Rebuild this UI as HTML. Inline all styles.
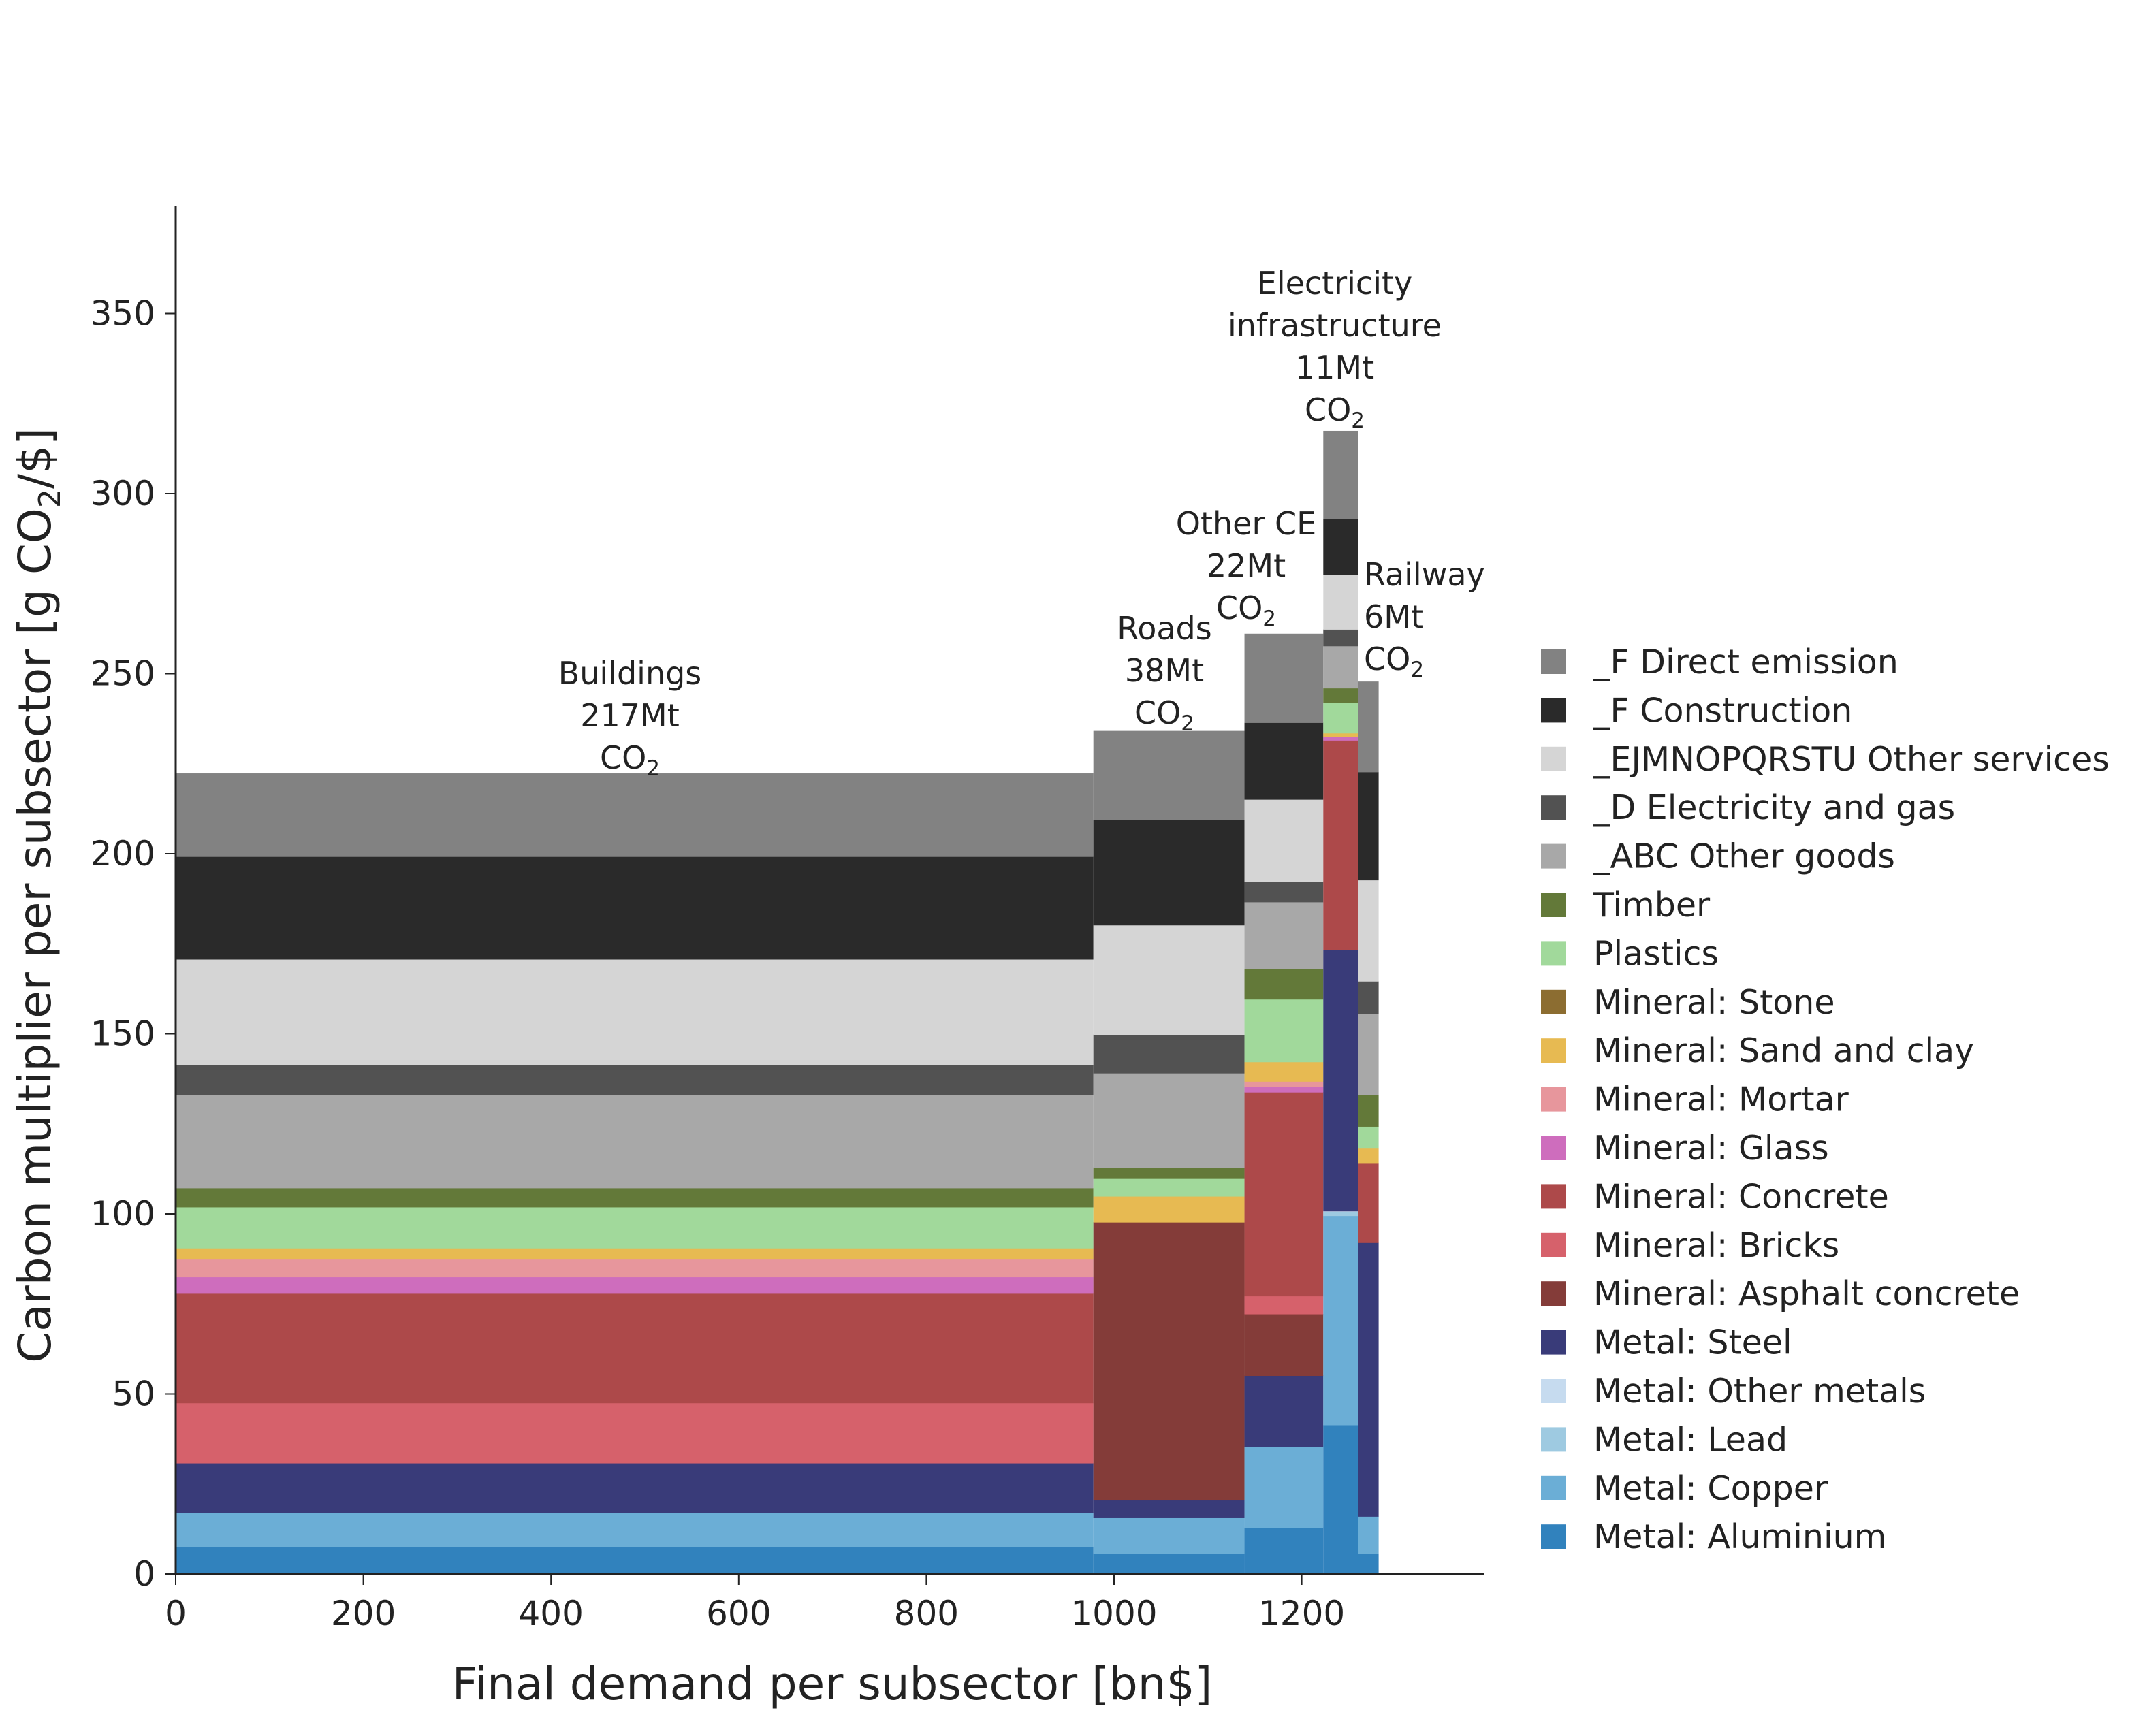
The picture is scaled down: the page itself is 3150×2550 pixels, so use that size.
<!DOCTYPE html>
<html><head><meta charset="utf-8"><style>
html,body{margin:0;padding:0;background:#fff;}
svg{display:block;font-family:"DejaVu Sans","Liberation Sans",sans-serif;}
</style></head><body>
<svg id="chart" width="3150" height="2550" viewBox="0 0 3150 2550" xmlns="http://www.w3.org/2000/svg"></svg>
<script>
const sectors = ["Buildings","Roads","Other CE","Electricity infrastructure","Railway"];
const demand = [978, 161, 84, 37, 22];
const labelLines = [["Buildings","217Mt","CO2"],["Roads","38Mt","CO2"],["Other CE","22Mt","CO2"],["Electricity","infrastructure","11Mt","CO2"],["Railway","6Mt","CO2"]];
const seriesNames = ["Metal: Aluminium","Metal: Copper","Metal: Lead","Metal: Other metals","Metal: Steel","Mineral: Asphalt concrete","Mineral: Bricks","Mineral: Concrete","Mineral: Glass","Mineral: Mortar","Mineral: Sand and clay","Mineral: Stone","Plastics","Timber","_ABC Other goods","_D Electricity and gas","_EJMNOPQRSTU Other services","_F Construction","_F Direct emission"];
const seriesColors = ["#3182bd","#6baed6","#9ecae1","#c6dbef","#393b79","#843c39","#d6616b","#ad494a","#ce6dbd","#e7969c","#e7ba52","#8c6d31","#a1d99b","#637939","#a8a8a8","#525252","#d5d5d5","#2a2a2a","#828282"];
const sAluminium = [7.6,5.7,12.9,41.4,5.7];
const sCopper = [9.5,9.9,22.4,58.1,10.3];
const sLead = [0,0,0,1.0,0];
const sOtherMetals = [0,0,0,0.3,0];
const sSteel = [13.7,4.9,19.8,72.5,76];
const sAsphalt = [0,77.2,17.1,0,0];
const sBricks = [16.7,0,5.0,0,0];
const sConcrete = [30.4,0,56.6,58.2,22];
const sGlass = [4.6,0,1.5,1.0,0];
const sMortar = [4.9,0,1.5,0,0];
const sSand = [3.1,7.2,5.4,1.0,4.2];
const sStone = [0,0,0,0,0];
const sPlastics = [11.4,4.9,17.4,8.5,6.1];
const sTimber = [5.3,3.1,8.4,4.0,8.7];
const sABC = [25.8,26.2,18.6,11.7,22.5];
const sD = [8.4,10.7,5.7,4.6,9.1];
const sEJM = [29.3,30.4,22.8,15.2,28.1];
const sFConstr = [28.5,29.2,21.3,15.5,30];
const sDirect = [23.1,24.7,24.7,24.4,25.1];
const seriesValues = [sAluminium,sCopper,sLead,sOtherMetals,sSteel,sAsphalt,sBricks,sConcrete,sGlass,sMortar,sSand,sStone,sPlastics,sTimber,sABC,sD,sEJM,sFConstr,sDirect];
const xTicks = [0,200,400,600,800,1000,1200];
const yTicks = [0,50,100,150,200,250,300,350];

const NS="http://www.w3.org/2000/svg";
const svg=document.getElementById('chart');
const X0=258, PXX=1.378, Y0=2312, PXY=5.29;
const xs=v=>X0+v*PXX, ys=v=>Y0-v*PXY;
function el(t,a,p){const e=document.createElementNS(NS,t);for(const k in a)e.setAttribute(k,a[k]);(p||svg).appendChild(e);return e;}

// label layout (pixel positions, not data)
const labelX=[925,1710,1830,1960,2003];
const labelAnchor=['middle','middle','middle','middle','start'];
const labelTopY=[1005,939,785,432,860];

const bars=el('g',{});


let cx=0;
for(let b=0;b<demand.length;b++){
  let base=0;
  for(let s=0;s<seriesValues.length;s++){
    const v=seriesValues[s][b];
    if(v>0){
      const r=el('rect',{x:xs(cx),y:ys(base+v),width:xs(cx+demand[b])-xs(cx),height:ys(base)-ys(base+v)+0.5,fill:seriesColors[s]},bars);
      
      
    }
    base+=v;
  }
  cx+=demand[b];
}
for(let b=0;b<labelLines.length;b++){
  const g=el('g',{});
  
  
  labelLines[b].forEach((ln,i)=>{
    const t=el('text',{x:labelX[b],y:labelTopY[b]+i*62,'text-anchor':labelAnchor[b],'font-size':46,fill:'#222'},g);
    if(ln==='CO2'){t.textContent='CO';const ts=el('tspan',{'font-size':31,dy:10},t);ts.textContent='2';}
    else t.textContent=ln;
  });
}

// axes
const ax=el('g',{});


el('line',{x1:X0,y1:Y0,x2:2180,y2:Y0,stroke:'#222','stroke-width':3},ax);
el('line',{x1:X0,y1:Y0,x2:X0,y2:303,stroke:'#222','stroke-width':3},ax);
xTicks.forEach(v=>{
  el('line',{x1:xs(v),y1:Y0,x2:xs(v),y2:Y0+16,stroke:'#222','stroke-width':2},ax);
  const t=el('text',{x:xs(v),y:Y0+75,'text-anchor':'middle','font-size':50,fill:'#222'},ax);t.textContent=v;
});
yTicks.forEach(v=>{
  el('line',{x1:X0,y1:ys(v),x2:X0-16,y2:ys(v),stroke:'#222','stroke-width':2},ax);
  const t=el('text',{x:X0-30,y:ys(v)+17,'text-anchor':'end','font-size':50,fill:'#222'},ax);t.textContent=v;
});
const xt=el('text',{x:1222,y:2496,'text-anchor':'middle','font-size':66,fill:'#222'});


xt.textContent='Final demand per subsector [bn$]';
const yt=el('text',{x:0,y:0,'text-anchor':'middle','font-size':66,fill:'#222',transform:'translate(74,1315) rotate(-90)'});


yt.textContent='Carbon multiplier per subsector [g CO';
const ys2=el('tspan',{'font-size':44,dy:14},yt);ys2.textContent='2';
const ys3=el('tspan',{dy:-14},yt);ys3.textContent='/$]';

// legend
const lg=el('g',{});


for(let i=0;i<seriesNames.length;i++){
  const s=seriesNames.length-1-i;
  const y=972+i*71.4;
  const e=el('g',{},lg);
  
  
  el('rect',{x:2263,y:y-18,width:36,height:36,fill:seriesColors[s]},e);
  const t=el('text',{x:2340,y:y+17,'font-size':49,fill:'#222'},e);t.textContent=seriesNames[s];
}
</script>
</body></html>
